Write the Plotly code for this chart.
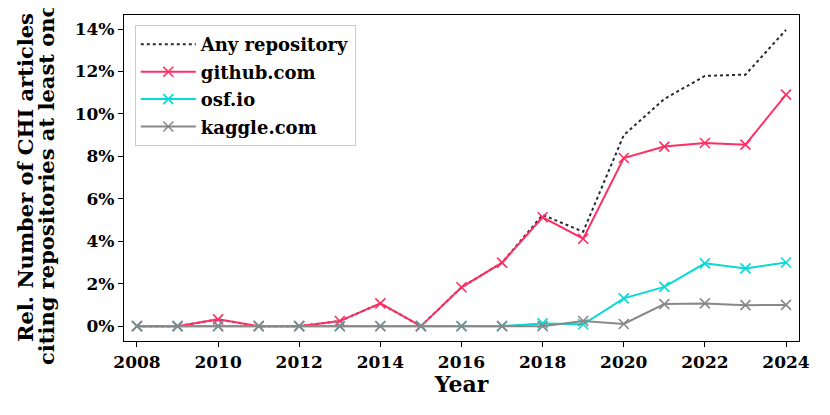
import plotly.graph_objects as go

# relative share of CHI articles citing a repository (percent)
years = list(range(2008, 2025))
any_repo = [0, 0, 0.32, 0, 0, 0.24, 1.07, 0, 1.83, 2.99, 5.24, 4.45, 9.0, 10.7, 11.79, 11.85, 13.96]
github = [0, 0, 0.32, 0, 0, 0.24, 1.07, 0, 1.83, 2.99, 5.13, 4.12, 7.92, 8.46, 8.63, 8.55, 10.91]
osf = [0, 0, 0, 0, 0, 0, 0, 0, 0, 0, 0.13, 0.09, 1.31, 1.85, 2.96, 2.72, 3.0]
kaggle = [0, 0, 0, 0, 0, 0, 0, 0, 0, 0, 0.0, 0.24, 0.1, 1.04, 1.07, 0.99, 1.0]
yticks = list(range(0, 15, 2))
ylabels = [f'{v}%' for v in yticks]

font = dict(family='DejaVu Serif', weight='bold', color='black')

fig = go.Figure()
fig.add_trace(go.Scatter(x=years, y=any_repo, name='Any repository', mode='lines',
                         legendgroup='a',
                         line=dict(color='#252A34', width=2, dash='dot')))
for name, vals, col in [('github.com', github, '#FF2E63'),
                        ('osf.io', osf, '#08D9D6'),
                        ('kaggle.com', kaggle, '#888888')]:
    fig.add_trace(go.Scatter(x=years, y=vals, name=name, mode='lines+markers',
                             legendgroup=name,
                             line=dict(color=col, width=2),
                             marker=dict(symbol='x-thin-open', size=10,
                                         line=dict(color=col, width=1.6))))

# page body adds an 8px offset, so the figure is a bit smaller than the window
fig.update_layout(
    width=822, height=407,
    margin=dict(l=116, r=31, t=7, b=74),
    plot_bgcolor='white', paper_bgcolor='white',
    font=dict(size=17, **font),
    showlegend=True,
    legend=dict(x=0.016, y=0.969, xanchor='left', yanchor='top',
                bgcolor='white', bordercolor='#cccccc', borderwidth=1,
                font=dict(size=18, **font), tracegroupgap=1, itemwidth=55),
)
fig.update_xaxes(range=[2007.68, 2024.32], tickvals=list(range(2008, 2025, 2)),
                 showgrid=False, zeroline=False, showline=True, mirror=True,
                 linecolor='black', linewidth=1.2, ticks='outside', ticklen=5,
                 tickcolor='black', tickfont=dict(size=17, **font), automargin=False,
                 title=dict(text='Year', font=dict(size=22, **font), standoff=2))
fig.update_yaxes(range=[-0.7, 14.66], tickmode='array', tickvals=yticks, ticktext=ylabels,
                 showgrid=False, zeroline=False, showline=True, mirror=True,
                 linecolor='black', linewidth=1.2, ticks='outside', ticklen=5,
                 tickcolor='black', tickfont=dict(size=17, **font), automargin=False)
for text, xpix in [('Rel. Number of CHI articles', 17),
                   ('citing repositories at least once', 38)]:
    fig.add_annotation(text=text, xref='paper', yref='paper',
                       x=(xpix - 116) / 675, y=0.5,
                       xanchor='center', yanchor='middle', textangle=-90,
                       showarrow=False, font=dict(size=21, **font))

fig.write_html("out.html")
